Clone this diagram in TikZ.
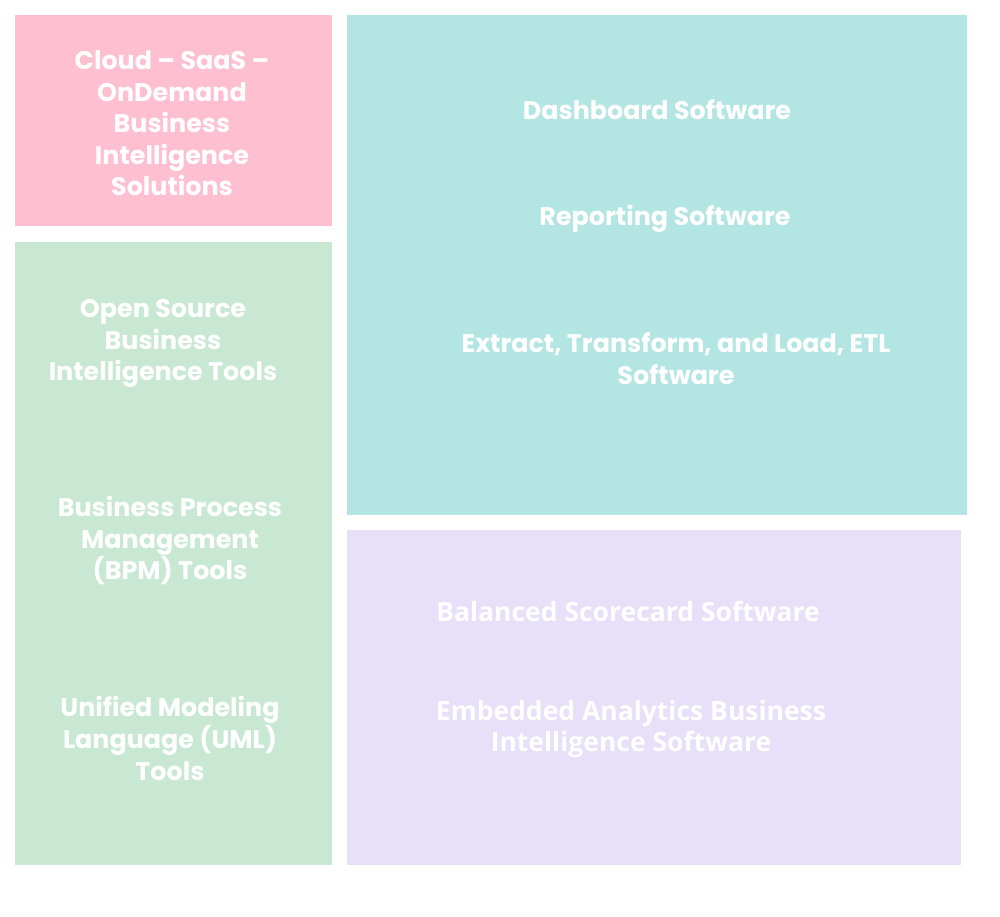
\documentclass[tikz,border=0pt]{standalone}
\usepackage{fontspec}
\setmainfont{Poppins}
\newfontfamily\altfont{Open Sans}
\definecolor{pinkbox}{HTML}{FEBFD0}
\definecolor{tealbox}{HTML}{B3E5E3}
\definecolor{greenbox}{HTML}{C8E8D3}
\definecolor{lilacbox}{HTML}{E8DFF9}

\begin{document}
\begin{tikzpicture}[x=1pt, y=-1pt,
    area/.style = {rectangle, inner sep=0pt, anchor=north west},
    tag/.style = {text=white, align=center, inner sep=0pt, font=\bfseries\fontsize{25.4}{31.6}\selectfont},
    alttag/.style = {tag, font=\altfont\bfseries\fontsize{26.5}{31.6}\selectfont}]
    \useasboundingbox (0,0) rectangle (1000,917);
    \node[area, fill=pinkbox, minimum width=317pt, minimum height=211pt] (cloud) at (15,15) {};
    \node[area, fill=tealbox, minimum width=620pt, minimum height=500pt] (soft) at (347,15) {};
    \node[area, fill=greenbox, minimum width=317pt, minimum height=623pt] (tools) at (15,242) {};
    \node[area, fill=lilacbox, minimum width=614pt, minimum height=335pt] (embed) at (347,530) {};
    % pink
    \node[tag] (saas) at (172,123.5) {Cloud -- SaaS --\\OnDemand\\Business\\Intelligence\\Solutions};
    % teal
    \node[tag] (dash) at (657,110) {Dashboard Software};
    \node[tag] (report) at (665,218.5) {Reporting Software};
    \node[tag] (etl) at (676,358.5) {Extract, Transform, and Load, ETL\\Software};
    % green
    \node[tag] (open) at (163,343.5) {Open Source\\Business\\Intelligence Tools};
    \node[tag] (bpm) at (170,540.5) {Business Process\\Management\\(BPM) Tools};
    \node[tag] (uml) at (170,738.5) {Unified Modeling\\Language (UML)\\Tools};
    % lilac
    \node[alttag] (score) at (628,611) {Balanced Scorecard Software};
    \node[alttag] (analytics) at (631,729) {Embedded Analytics Business\\Intelligence Software};
\end{tikzpicture}
\end{document}
